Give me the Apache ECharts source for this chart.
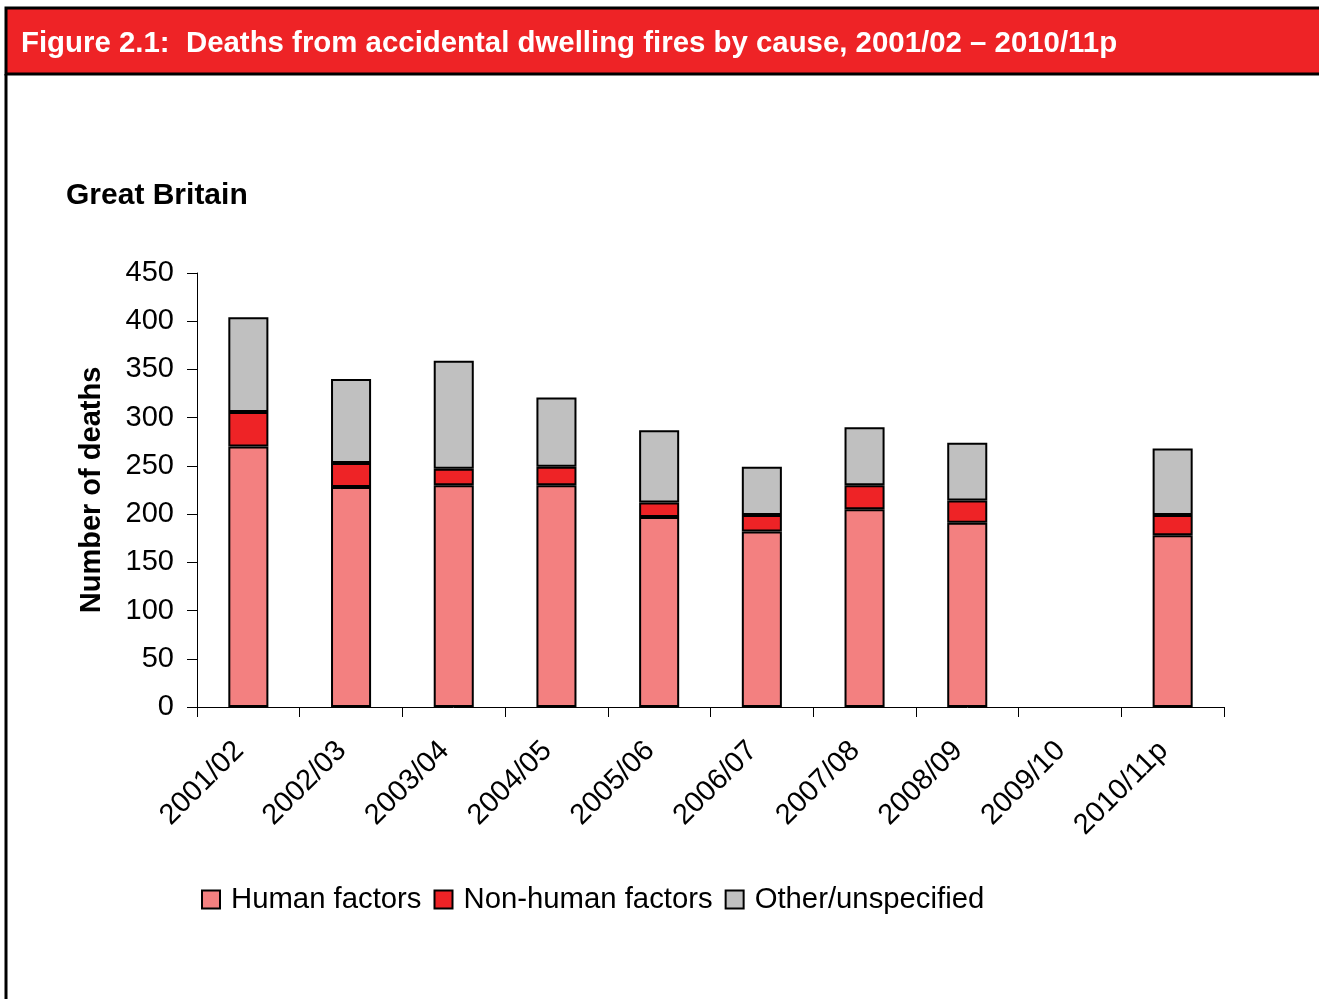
<!DOCTYPE html>
<html>
<head>
<meta charset="utf-8">
<script src="https://cdn.jsdelivr.net/npm/echarts@6/dist/echarts.min.js"></script>
<style>
  html, body { margin: 0; padding: 0; background: #fff; }
  #chart { width: 1319px; height: 999px; }
</style>
</head>
<body>
<div id="chart"></div>
<script>
// financial years shown on the x axis
var years = ['2001/02', '2002/03', '2003/04', '2004/05', '2005/06',
             '2006/07', '2007/08', '2008/09', '2009/10', '2010/11p'];

// deaths by cause (2009/10 has no bar)
var humanFactors    = [270, 228, 230, 230, 197, 182, 205, 191, null, 178];
var nonHumanFactors = [36, 25, 17, 19, 15, 17, 25, 23, null, 21];
var otherUnspec     = [98, 87, 112, 72, 75, 50, 60, 60, null, 69];

var yTicks = { min: 0, max: 450, step: 50 };

var font = 'Liberation Sans, Arial, sans-serif';

var chart = echarts.init(document.getElementById('chart'));

function barSeries(name, data, color) {
  return {
    name: name,
    type: 'bar',
    stack: 'deaths',
    data: data,
    barWidth: '39%',
    itemStyle: { color: color, borderColor: '#000', borderWidth: 2 },
    emphasis: { disabled: true }
  };
}

chart.setOption({
  animation: false,
  textStyle: { fontFamily: font },
  graphic: [
    {
      type: 'rect',
      shape: { x: 6, y: 8, width: 1320, height: 66 },
      style: { fill: '#EE2326', stroke: '#000', lineWidth: 3 }
    },
    {
      type: 'line',
      shape: { x1: 6, y1: 74, x2: 6, y2: 1000 },
      style: { stroke: '#000', lineWidth: 3 }
    }
  ],
  title: [
    {
      text: 'Figure 2.1:  Deaths from accidental dwelling fires by cause, 2001/02 \u2013 2010/11p',
      left: 21, top: 29, padding: 0,
      textStyle: { color: '#fff', fontSize: 29.4, fontWeight: 'bold', fontFamily: font }
    },
    {
      text: 'Great Britain',
      left: 66, top: 181, padding: 0,
      textStyle: { color: '#000', fontSize: 30, fontWeight: 'bold', fontFamily: font }
    }
  ],
  legend: {
    left: 201, top: 885, padding: 0,
    itemWidth: 18, itemHeight: 18, itemGap: 12,
    icon: 'rect',
    textStyle: { fontSize: 29.3, color: '#000', fontFamily: font, padding: [0, 0, 0, 6] },
    data: ['Human factors', 'Non-human factors', 'Other/unspecified']
  },
  grid: { left: 197, top: 273, right: 95, bottom: 292, containLabel: false },
  xAxis: {
    type: 'category',
    data: years,
    boundaryGap: true,
    axisLine: { lineStyle: { color: '#000', width: 1 } },
    axisTick: { show: true, length: 10, interval: 0, lineStyle: { color: '#000' } },
    axisLabel: {
      interval: 0, rotate: 45, margin: 30, fontSize: 29, color: '#000', fontFamily: font,
      padding: [0, 13, 0, 0]
    }
  },
  yAxis: {
    type: 'value',
    min: yTicks.min, max: yTicks.max, interval: yTicks.step,
    name: 'Number of deaths',
    nameLocation: 'middle',
    nameGap: 91,
    nameRotate: 90,
    nameTextStyle: { fontSize: 29, fontWeight: 'bold', color: '#000', fontFamily: font },
    axisLine: { show: true, lineStyle: { color: '#000', width: 1 } },
    axisTick: { show: true, length: 10, lineStyle: { color: '#000' } },
    splitLine: { show: false },
    axisLabel: { margin: 23, fontSize: 29, color: '#000', fontFamily: font }
  },
  series: [
    barSeries('Human factors', humanFactors, '#F38080'),
    barSeries('Non-human factors', nonHumanFactors, '#EE2326'),
    barSeries('Other/unspecified', otherUnspec, '#C0C0C0')
  ]
});
</script>
</body>
</html>
